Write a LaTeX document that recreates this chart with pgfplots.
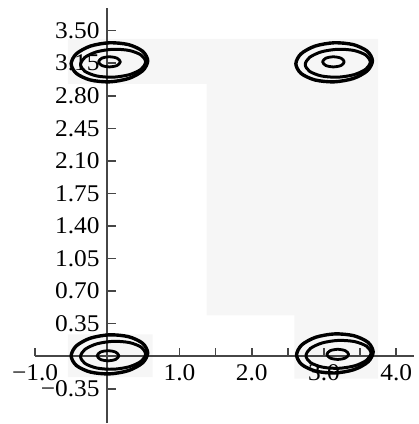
\documentclass[border=0pt]{standalone}
\usepackage{fontspec}
\setmainfont[FakeStretch=1.06]{Liberation Serif}
\usepackage{pgfplots}
\pgfplotsset{compat=1.18}
\definecolor{regiongray}{RGB}{246,246,246}
\definecolor{axisgray}{RGB}{70,70,70}
\begin{document}
\begin{tikzpicture}
\begin{axis}[
  set layers=standard,
  scale only axis,
  width=189.9pt, height=208pt,
  xmin=-1.0, xmax=4.247, ymin=-0.719, ymax=3.745,
  axis lines=middle,
  axis line style={-, axisgray, line width=0.9pt},
  tick style={axisgray, line width=0.8pt},
  tick align=inside,
  major tick length=4.2pt,
  clip=false,
  xtick={-1,1,1.5,2,2.5,3,3.5,4},
  xticklabels={−1.0,1.0,,2.0,,3.0,,4.0},
  ytick={-0.35,0.35,0.70,1.05,1.40,1.75,2.10,2.45,2.80,3.15,3.50},
  yticklabels={−0.35,0.35,0.70,1.05,1.40,1.75,2.10,2.45,2.80,3.15,3.50},
  tick label style={font=\fontsize{12}{13}\selectfont, black},
  xticklabel style={yshift=-0.5pt},
  yticklabel style={xshift=-0.3pt},
  every axis plot/.append style={line join=round},
]
% light grey regions
\addplot[draw=none, fill=regiongray, on layer=axis background] coordinates {
 (-0.546,3.412) (3.75,3.412) (3.75,-0.24) (2.59,-0.24) (2.59,0.44) (1.374,0.44) (1.374,2.929) (-0.546,2.929) (-0.546,3.412)};
\addplot[draw=none, fill=regiongray, on layer=axis background] coordinates {
 (-0.546,-0.225) (0.628,-0.225) (0.628,0.236) (-0.546,0.236) (-0.546,-0.225)};
% contour rings: bottom left
\addplot[black, line width=1.7pt, smooth cycle] coordinates {
 (0.56,0.036) (0.489,0.139) (0.295,0.21) (0.03,0.23) (-0.235,0.194) (-0.429,0.111) (-0.5,0.004) (-0.429,-0.099) (-0.235,-0.17) (0.03,-0.19) (0.295,-0.154) (0.489,-0.071)};
\addplot[black, line width=1.5pt, smooth cycle] coordinates {
 (0.53,0.024) (0.47,0.097) (0.305,0.147) (0.08,0.16) (-0.145,0.133) (-0.31,0.073) (-0.37,-0.004) (-0.31,-0.077) (-0.145,-0.127) (0.08,-0.14) (0.305,-0.113) (0.47,-0.053)};
\addplot[black, line width=1.4pt, smooth cycle] coordinates {
 (0.16,0.005) (0.116,0.044) (0.01,0.06) (-0.096,0.044) (-0.14,0.005) (-0.096,-0.034) (0.01,-0.05) (0.116,-0.034)};
% bottom right
\addplot[black, line width=1.7pt, smooth cycle] coordinates {
 (3.68,0.046) (3.609,0.149) (3.415,0.22) (3.15,0.24) (2.885,0.204) (2.691,0.121) (2.62,0.014) (2.691,-0.089) (2.885,-0.16) (3.15,-0.18) (3.415,-0.144) (3.609,-0.061)};
\addplot[black, line width=1.5pt, smooth cycle] coordinates {
 (3.65,0.034) (3.59,0.107) (3.425,0.157) (3.2,0.17) (2.975,0.143) (2.81,0.083) (2.75,0.006) (2.81,-0.067) (2.975,-0.117) (3.2,-0.13) (3.425,-0.103) (3.59,-0.043)};
\addplot[black, line width=1.4pt, smooth cycle] coordinates {
 (3.34,0.02) (3.296,0.059) (3.19,0.075) (3.084,0.059) (3.04,0.02) (3.084,-0.019) (3.19,-0.035) (3.296,-0.019)};
% top left
\addplot[black, line width=1.7pt, smooth cycle] coordinates {
 (0.56,3.176) (0.489,3.279) (0.295,3.35) (0.03,3.37) (-0.235,3.334) (-0.429,3.251) (-0.5,3.144) (-0.429,3.041) (-0.235,2.97) (0.03,2.95) (0.295,2.986) (0.489,3.069)};
\addplot[black, line width=1.5pt, smooth cycle] coordinates {
 (0.53,3.164) (0.47,3.237) (0.305,3.287) (0.08,3.3) (-0.145,3.273) (-0.31,3.213) (-0.37,3.136) (-0.31,3.063) (-0.145,3.013) (0.08,3.0) (0.305,3.027) (0.47,3.087)};
\addplot[black, line width=1.4pt, smooth cycle] coordinates {
 (0.18,3.165) (0.136,3.204) (0.03,3.22) (-0.076,3.204) (-0.12,3.165) (-0.076,3.126) (0.03,3.11) (0.136,3.126)};
% top right
\addplot[black, line width=1.7pt, smooth cycle] coordinates {
 (3.67,3.176) (3.599,3.279) (3.405,3.35) (3.14,3.37) (2.875,3.334) (2.681,3.251) (2.61,3.144) (2.681,3.041) (2.875,2.97) (3.14,2.95) (3.405,2.986) (3.599,3.069)};
\addplot[black, line width=1.5pt, smooth cycle] coordinates {
 (3.64,3.164) (3.58,3.237) (3.415,3.287) (3.19,3.3) (2.965,3.273) (2.8,3.213) (2.74,3.136) (2.8,3.063) (2.965,3.013) (3.19,3.0) (3.415,3.027) (3.58,3.087)};
\addplot[black, line width=1.4pt, smooth cycle] coordinates {
 (3.28,3.165) (3.236,3.204) (3.13,3.22) (3.024,3.204) (2.98,3.165) (3.024,3.126) (3.13,3.11) (3.236,3.126)};
% extent of the picture (invisible)
\path (axis cs:-1.485,3.83) rectangle (axis cs:4.247,-0.719);
\end{axis}
\end{tikzpicture}
\end{document}
